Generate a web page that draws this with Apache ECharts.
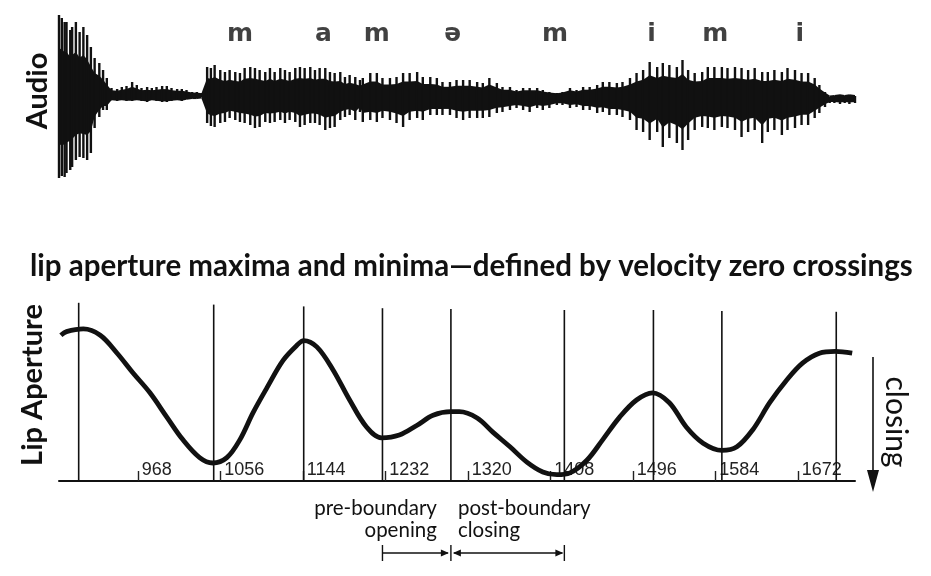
<!DOCTYPE html>
<html>
<head>
<meta charset="utf-8">
<script src="https://cdn.jsdelivr.net/npm/echarts@6/dist/echarts.min.js"></script>
<style>
  html, body { margin: 0; padding: 0; background: #ffffff; }
  #chart { width: 931px; height: 576px; }
</style>
</head>
<body>
<div id="chart"></div>
<script>
// Time axis (ms) shared by the audio trace and the lip aperture trace
const TIME_MIN = 884;
const TIME_MAX = 1733;
const tickValues = [968, 1056, 1144, 1232, 1320, 1408, 1496, 1584, 1672];

// Segment labels over the waveform
const phonemes = ['m', 'a', 'm', 'ə', 'm', 'i', 'm', 'i'];
const phonemeTimes = [1077, 1166, 1223, 1304, 1413, 1516, 1584, 1674];

// Audio waveform: peak (positive) and trough (negative) amplitude at each sample time
const audioTimes = [
  884, 887, 890, 892, 896, 898, 902, 906, 910, 914, 918, 922, 927, 931, 935,
  940, 946, 951, 956, 962, 967, 972, 978, 983, 988, 994, 999, 1004, 1010, 1015,
  1020, 1026, 1031, 1036,
  1042, 1046, 1050, 1056, 1061, 1066, 1072, 1077, 1082, 1088, 1093, 1098, 1104,
  1109, 1114, 1120, 1125, 1130, 1136, 1141, 1146, 1152, 1157, 1162, 1168, 1173,
  1178, 1184, 1189, 1194, 1200, 1205, 1208, 1216, 1223, 1229, 1237, 1244, 1251,
  1258, 1266, 1272, 1280, 1287, 1293, 1301, 1308, 1315, 1322, 1330, 1336, 1343,
  1351, 1357, 1365, 1372, 1379, 1386, 1394, 1400, 1407, 1415, 1421, 1429, 1436,
  1443, 1450, 1458, 1464, 1471, 1479, 1485, 1493, 1500, 1507, 1514, 1522, 1528,
  1535, 1543, 1549, 1555, 1562, 1570, 1576, 1583, 1591, 1597, 1605, 1612, 1619,
  1626, 1634, 1640, 1647, 1655, 1661, 1669, 1676, 1683, 1690, 1695, 1701, 1706,
  1711, 1717, 1722, 1727, 1733
];
const audioHigh = [
  82, 79, 75, 75, 67, 70, 75, 65, 70, 62, 50, 39, 34, 27, 19,
  9, 8, 10, 11, 15, 12, 9, 10, 9, 10, 11, 11, 9, 8, 8,
  7, 5, 5, 4,
  30, 29, 32, 27, 25, 27, 25, 24, 29, 30, 29, 27, 25,
  29, 25, 29, 27, 25, 29, 30, 29, 30, 27, 29, 29, 25,
  24, 25, 20, 22, 20, 17, 19, 24, 24, 19, 19, 20, 24,
  24, 25, 20, 20, 19, 15, 15, 17, 17, 17, 15, 14, 19,
  14, 10, 10, 7, 9, 9, 9, 7, 5, 4, 5, 9, 7,
  10, 10, 12, 15, 15, 14, 15, 19, 24, 27, 35, 30, 34,
  32, 30, 37, 27, 24, 25, 30, 30, 30, 29, 30, 29, 27,
  29, 25, 25, 27, 25, 29, 27, 24, 24, 19, 12, 5, 0,
  1, 2, 1, 2, 1
];
const audioLow = [
  -81, -79, -80, -76, -73, -70, -63, -60, -61, -63, -56, -31, -20, -13, -13,
  -3, -4, -3, -4, -4, -3, -4, -5, -3, -4, -5, -5, -4, -3, -4,
  -2, -1, -1, 0,
  -26, -29, -30, -26, -25, -21, -23, -25, -26, -28, -31, -30, -25,
  -26, -25, -23, -26, -23, -25, -30, -28, -26, -26, -28, -33, -31,
  -30, -23, -20, -18, -23, -15, -25, -23, -25, -21, -23, -26, -30,
  -23, -21, -23, -18, -18, -18, -18, -21, -23, -21, -21, -21, -20,
  -16, -15, -13, -11, -13, -15, -11, -13, -11, -8, -8, -11, -10,
  -13, -13, -16, -15, -18, -18, -20, -23, -33, -35, -43, -35, -50,
  -41, -46, -53, -43, -33, -30, -31, -33, -30, -31, -33, -40, -35,
  -33, -46, -35, -33, -38, -33, -31, -28, -28, -21, -16, -10, -6,
  -6, -7, -6, -7, -6
];

// Lip aperture trajectory
const apertureTimes = [
  886, 892, 910, 928, 946, 963, 981, 999, 1016, 1034, 1048, 1063, 1077, 1091,
  1106, 1123, 1138, 1145, 1159, 1176, 1194, 1212, 1228, 1247, 1266, 1283, 1302,
  1311, 1330, 1347, 1365, 1383, 1400, 1415, 1429, 1447, 1464, 1482, 1500, 1517,
  1535, 1553, 1571, 1591, 1607, 1624, 1642, 1660, 1677, 1695, 1712, 1730
];
const apertureValues = [
  81, 83, 84.5, 81, 71, 60, 49, 35.5, 23, 13, 10, 13, 23, 38,
  52, 67, 75.5, 78, 74.5, 62, 45, 30, 24, 25.5, 31, 36.5, 38.5,
  38.5, 35, 27, 19, 10.5, 5, 3.5, 4.5, 11.5, 23, 35.5, 45, 49,
  43.5, 30, 21, 17, 19, 28.5, 43.5, 56, 65.5, 71, 72, 71
];

// Velocity zero crossings (aperture maxima and minima) and the height of each marker line
const crossingTimes = [905, 1049, 1145, 1229, 1302, 1423, 1518, 1591, 1713];
const crossingTops = [99, 98, 97, 96, 95.5, 95, 95, 94.5, 94];

const INK = '#111111';
const chart = echarts.init(document.getElementById('chart'), null, { renderer: 'canvas' });

const audioData = audioTimes.map((t, i) => [t, audioHigh[i], audioLow[i]]);

// Each sample is drawn as a vertical stroke; a dark band joins the inner part of neighbouring strokes
const CORE = 0.58;
function renderAudio(params, api) {
  const i = params.dataIndex;
  const t = api.value(0), hi = api.value(1), lo = api.value(2);
  const top = api.coord([t, hi]);
  const bot = api.coord([t, lo]);
  const children = [{
    type: 'rect',
    shape: { x: top[0] - 1.2, y: top[1], width: 2.4, height: Math.max(1, bot[1] - top[1]) },
    style: { fill: INK }
  }];
  if (i < audioTimes.length - 1) {
    const tn = audioTimes[i + 1];
    const a = api.coord([t, hi * CORE]);
    const b = api.coord([tn, audioHigh[i + 1] * CORE]);
    const c = api.coord([tn, audioLow[i + 1] * CORE]);
    const d = api.coord([t, lo * CORE]);
    children.push({
      type: 'polygon',
      shape: { points: [[a[0], a[1] - 1.5], [b[0], b[1] - 1.5], [c[0], c[1] + 1.5], [d[0], d[1] + 1.5]] },
      style: { fill: INK }
    });
  }
  return { type: 'group', children };
}

function renderCrossings(params, api) {
  const t = api.value(0), h = api.value(1);
  const p0 = api.coord([t, 0]);
  const p1 = api.coord([t, h]);
  return {
    type: 'line',
    shape: { x1: p0[0], y1: p0[1], x2: p1[0], y2: p1[1] },
    style: { stroke: INK, lineWidth: 1.6 }
  };
}

const option = {
  backgroundColor: '#ffffff',
  animation: false,
  grid: [
    { left: 59, right: 76, top: 7, height: 180 },
    { left: 59, right: 76, top: 301, height: 180 }
  ],
  xAxis: [
    { gridIndex: 0, type: 'value', min: TIME_MIN, max: TIME_MAX, show: false },
    {
      gridIndex: 1, type: 'value', min: TIME_MIN, max: TIME_MAX,
      axisLine: { show: true, lineStyle: { color: INK, width: 2 } },
      axisTick: {
        show: true, inside: true, length: 10, customValues: tickValues,
        lineStyle: { color: '#222', width: 1.4 }
      },
      axisLabel: {
        show: true, inside: true, customValues: tickValues, margin: 2,
        align: 'left', padding: [0, 0, 0, 4],
        formatter: v => String(v),
        fontFamily: 'Liberation Sans', fontSize: 18, color: '#222'
      },
      splitLine: { show: false }
    }
  ],
  yAxis: [
    { gridIndex: 0, type: 'value', min: -90, max: 90, show: false },
    { gridIndex: 1, type: 'value', min: 0, max: 100, show: false }
  ],
  series: [
    {
      type: 'custom', name: 'Audio', xAxisIndex: 0, yAxisIndex: 0,
      data: audioData, renderItem: renderAudio, clip: false
    },
    {
      type: 'scatter', xAxisIndex: 0, yAxisIndex: 0, symbolSize: 0,
      data: phonemeTimes.map((t, i) => ({ value: [t, 63], name: phonemes[i] })),
      label: {
        show: true, position: 'inside', formatter: '{b}',
        fontFamily: 'DejaVu Sans', fontWeight: 'bold', fontSize: 25, color: INK
      }
    },
    {
      type: 'custom', name: 'Zero crossings', xAxisIndex: 1, yAxisIndex: 1,
      data: crossingTimes.map((t, i) => [t, crossingTops[i]]),
      renderItem: renderCrossings, clip: false
    },
    {
      type: 'line', name: 'Lip Aperture', xAxisIndex: 1, yAxisIndex: 1,
      data: apertureTimes.map((t, i) => [t, apertureValues[i]]),
      smooth: 0.35, showSymbol: false,
      lineStyle: { color: INK, width: 4.8 }
    }
  ]
};

chart.setOption(option);

// Text and annotation arrows, placed from the axis scale
const px = t => chart.convertToPixel({ xAxisIndex: 1 }, t);
const xPre = px(crossingTimes[3]);
const xBound = px(crossingTimes[4]);
const xPost = px(crossingTimes[5]);
const arrowY = 553;

function arrowHead(tipX, y, dir) {
  return {
    type: 'polygon',
    shape: { points: [[tipX, y], [tipX - dir * 8, y - 3.5], [tipX - dir * 8, y + 3.5]] },
    style: { fill: INK }
  };
}
function vbar(x, y) {
  return { type: 'line', shape: { x1: x, y1: y - 8, x2: x, y2: y + 8 }, style: { stroke: INK, lineWidth: 1.4 } };
}
const textFont = '"Lato", "Open Sans", sans-serif';

chart.setOption({
  graphic: [
    {
      type: 'text', x: 38, y: 91, rotation: Math.PI / 2,
      style: { text: 'Audio', font: 'bold 29px ' + textFont, fill: INK, align: 'center', verticalAlign: 'middle' }
    },
    {
      type: 'text', x: 30, y: 266,
      style: { text: 'lip aperture maxima and minima—defined by velocity zero crossings', font: 'bold 29.5px ' + textFont, fill: INK, align: 'left', verticalAlign: 'middle' }
    },
    {
      type: 'text', x: 33, y: 385, rotation: Math.PI / 2,
      style: { text: 'Lip Aperture', font: 'bold 29px ' + textFont, fill: INK, align: 'center', verticalAlign: 'middle' }
    },
    {
      type: 'text', x: 896, y: 422, rotation: -Math.PI / 2,
      style: { text: 'closing', font: '30px ' + textFont, fill: INK, align: 'center', verticalAlign: 'middle' }
    },
    { type: 'line', shape: { x1: 873, y1: 357, x2: 873, y2: 474 }, style: { stroke: INK, lineWidth: 1.6 } },
    { type: 'polygon', shape: { points: [[867, 470], [879, 470], [873, 492]] }, style: { fill: INK } },
    {
      type: 'text', x: xBound - 14, y: 508,
      style: { text: 'pre-boundary', font: '20.5px ' + textFont, fill: INK, align: 'right', verticalAlign: 'middle' }
    },
    {
      type: 'text', x: xBound - 14, y: 530,
      style: { text: 'opening', font: '20.5px ' + textFont, fill: INK, align: 'right', verticalAlign: 'middle' }
    },
    {
      type: 'text', x: xBound + 7, y: 508,
      style: { text: 'post-boundary', font: '20.5px ' + textFont, fill: INK, align: 'left', verticalAlign: 'middle' }
    },
    {
      type: 'text', x: xBound + 7, y: 530,
      style: { text: 'closing', font: '20.5px ' + textFont, fill: INK, align: 'left', verticalAlign: 'middle' }
    },
    vbar(xPre, arrowY),
    { type: 'line', shape: { x1: xPre, y1: arrowY, x2: xBound - 3, y2: arrowY }, style: { stroke: INK, lineWidth: 1.4 } },
    arrowHead(xBound - 2, arrowY, 1),
    vbar(xBound, arrowY),
    arrowHead(xBound + 2, arrowY, -1),
    { type: 'line', shape: { x1: xBound + 3, y1: arrowY, x2: xPost - 2, y2: arrowY }, style: { stroke: INK, lineWidth: 1.4 } },
    arrowHead(xPost - 1, arrowY, 1),
    vbar(xPost, arrowY)
  ]
});
</script>
</body>
</html>
